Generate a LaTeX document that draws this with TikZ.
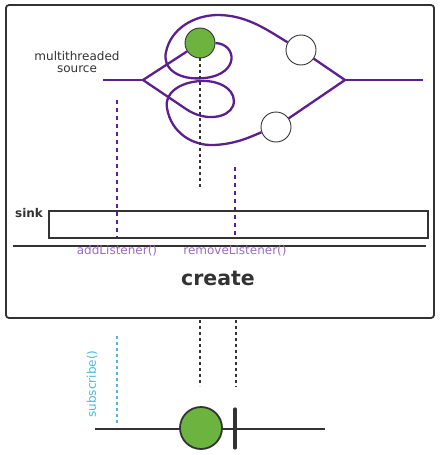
\documentclass[tikz,border=0pt]{standalone}
\usepackage{fontspec}
\setmainfont{DejaVu Sans}
\usetikzlibrary{backgrounds}
\definecolor{pur}{HTML}{5B1F8F}
\definecolor{lpur}{HTML}{9B6BC0}
\definecolor{dk}{HTML}{333333}
\definecolor{grn}{HTML}{6DB33F}
\definecolor{cyn}{HTML}{4BB8E0}
\begin{document}
\begin{tikzpicture}[x=1pt,y=-1pt,
  flow/.style={draw=pur,line width=2.3pt},
  marble/.style={circle,draw=dk,line width=0.9pt,inner sep=0pt,minimum size=30pt},
  pdash/.style={draw=pur,line width=2.2pt,dash pattern=on 4pt off 4pt},
  kdash/.style={draw=dk,line width=2.2pt,dash pattern=on 3pt off 3pt},
  cdash/.style={draw=cyn,line width=2.2pt,dash pattern=on 3pt off 3pt},
  small/.style={font=\fontsize{12}{12.7}\selectfont,text=dk,inner sep=0pt},
  lbl/.style={font=\fontsize{12}{13}\selectfont,text=lpur,inner sep=0pt,anchor=base},
  frame/.style={draw=dk,line width=1.8pt}]
\useasboundingbox (0,0) rectangle (440,455);
% main box
\draw[frame,rounded corners=3pt] (6,5) rectangle (434,318);
% marbles
\node[marble,fill=grn] (g1) at (200,43) {};
\node[marble,fill=white] (w1) at (301,50) {};
\node[marble,fill=white] (w2) at (276,127) {};
\coordinate (s0) at (103,80);
\coordinate (jl) at (143,80);
\coordinate (jr) at (345,80);
\coordinate (s1) at (423,80);
\begin{scope}[on background layer]
\draw[flow] (s0) -- (jl);
\draw[flow] (jr) -- (s1);
\draw[flow] (jl) -- (g1);
\draw[flow] (g1.east) .. controls (237,44) and (240,74) .. (205,78)
  .. controls (178,81) and (162,68) .. (166,52)
  .. controls (171,28) and (195,15) .. (218,15)
  .. controls (248,15) and (270,32) .. (w1.150);
\draw[flow] (jl) -- (186,109) .. controls (205,122) and (228,118) .. (233,106)
  .. controls (238,92) and (222,80) .. (201,81)
  .. controls (180,82) and (164,93) .. (167,108)
  .. controls (171,133) and (193,146) .. (214,145)
  .. controls (236,144) and (250,137) .. (w2.200);
\draw[flow] (w1) -- (jr);
\draw[flow] (w2) -- (jr);
\end{scope}
\node[small,align=center] (src) at (77,62) {multithreaded\\source};
% dotted lines
\coordinate (gd) at (200,190);
\draw[kdash] (g1.south) -- (gd);
\coordinate (a0) at (117,100);
\coordinate (a1) at (117,238);
\coordinate (r0) at (235,167);
\coordinate (r1) at (235,238);
\draw[pdash] (a0) -- (a1);
\draw[pdash] (r0) -- (r1);
% sink
\node[draw=dk,line width=1.8pt,minimum width=379pt,minimum height=27pt,inner sep=0pt] (sinkbox) at (238.5,224.5) {};
\node[font=\fontsize{12}{14}\selectfont\bfseries,text=dk,anchor=base,inner sep=0pt] (sink) at (29,217) {sink};
\coordinate (h0) at (13,246);
\coordinate (h1) at (426,246);
\draw[frame] (h0) -- (h1);
\node[lbl] (add) at (117,254) {addListener()};
\node[lbl] (rem) at (235,254) {removeListener()};
\node[font=\fontsize{20.5}{24}\selectfont\bfseries,text=dk,anchor=base,inner sep=0pt] (create) at (218,285) {create};
% below
\coordinate (b0) at (200,320);
\coordinate (b1) at (200,386);
\coordinate (c0) at (236,320);
\coordinate (c1) at (236,387);
\draw[kdash] (b0) -- (b1);
\draw[kdash] (c0) -- (c1);
\coordinate (t0) at (95,429);
\coordinate (t1) at (325,429);
\draw[frame] (t0) -- (t1);
\node[marble,fill=grn,minimum size=42pt,line width=1.8pt] (g2) at (201,428) {};
\coordinate (e0) at (235,409);
\coordinate (e1) at (235,448);
\draw[draw=dk,line width=3.2pt,line cap=round] (e0) -- (e1);
\coordinate (u0) at (117,336);
\coordinate (u1) at (117,426);
\draw[cdash] (u0) -- (u1);
\node[font=\fontsize{12}{14}\selectfont,text=cyn,rotate=90,inner sep=0pt] (sub) at (92,384) {subscribe()};
\end{tikzpicture}
\end{document}
